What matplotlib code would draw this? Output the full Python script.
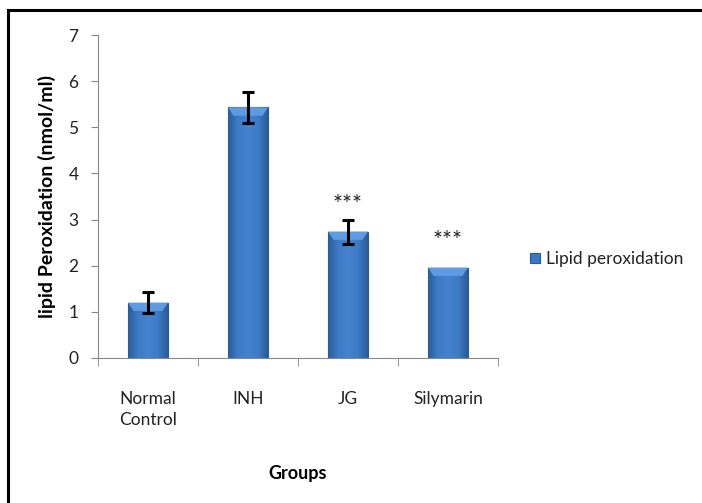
import numpy as np
import matplotlib
matplotlib.use("Agg")
import matplotlib.pyplot as plt
from matplotlib.patches import Rectangle
from matplotlib.colors import LinearSegmentedColormap

plt.rcParams['font.family'] = ['Lato', 'DejaVu Sans']

groups = ["Normal\nControl", "INH", "JG", "Silymarin"]
lipid_perox = [1.20, 5.43, 2.74, 1.96]
lipid_err = [0.22, 0.34, 0.26, 0.0]
signif = ["", "", "***", "***"]

W, H = 702, 503
fig = plt.figure(figsize=(W / 100, H / 100), dpi=100)
ax = fig.add_axes([98 / W, 1 - 358 / H, 400 / W, 323 / H])

x = np.arange(len(groups))
bars = ax.bar(x, lipid_perox, width=0.4, color="#3b78c4",
              edgecolor="#2a5a96", linewidth=0.8, zorder=2)

# shaded fill inside each bar: darker edges, lighter middle
shade = LinearSegmentedColormap.from_list(
    "barshade", ["#2a5c99", "#3e7bc6", "#4582cf", "#3e7bc6", "#2a5c99"])
grad = np.linspace(0, 1, 256).reshape(1, -1)
for b in bars:
    x0, w, h = b.get_x(), b.get_width(), b.get_height()
    im = ax.imshow(grad, cmap=shade, aspect="auto",
                   extent=[x0, x0 + w, 0, h], zorder=2.5)
    im.set_clip_path(b)
    # bevel on top of bar
    ax.add_patch(plt.Polygon([[x0, h], [x0 + w, h], [x0 + w * 0.86, h - 0.18],
                              [x0 + w * 0.14, h - 0.18]],
                             closed=True, color="#5e9be2", zorder=2.6, lw=0))

for xi, v, e in zip(x, lipid_perox, lipid_err):
    if e > 0:
        ax.errorbar(xi, v, yerr=e, fmt="none", ecolor="black",
                    elinewidth=2.2, capsize=4, capthick=2.2, zorder=3)

for xi, v, s in zip(x, lipid_perox, signif):
    if s:
        ax.text(xi, v + 0.58, s, ha="center", va="center",
                fontsize=17, color="#222222")

ax.set_xlim(-0.5, len(groups) - 0.5)
ax.set_ylim(0, 7)
ax.set_yticks(range(0, 8))
ax.set_xticks(x)
ax.set_xticklabels(groups, fontsize=12.5, linespacing=1.35, color="#222222")
ax.set_xticks(np.arange(-0.5, len(groups) + 0.5, 1), minor=True)
ax.tick_params(axis="x", which="major", length=0, pad=24)
ax.tick_params(axis="x", which="minor", length=6, color="#888888")
ax.tick_params(axis="y", length=5, color="#888888", labelsize=12.5,
               labelcolor="#222222", pad=9)

for side in ["top", "right"]:
    ax.spines[side].set_visible(False)
for side in ["left", "bottom"]:
    ax.spines[side].set_color("#888888")

ax.set_ylabel("lipid Peroxidation (nmol/ml)", fontsize=14, fontweight="bold",
              labelpad=9)
ax.set_xlabel("Groups", fontsize=13, fontweight="bold", labelpad=27)

# legend
fig.patches.append(Rectangle((530 / W, 1 - 263 / H), 10 / W, 10 / H,
                             transform=fig.transFigure,
                             facecolor="#3b78c4", edgecolor="#2a5a96", lw=0.8))
fig.text(546 / W, 1 - 259 / H, "Lipid peroxidation", fontsize=12.5,
         va="center", color="#222222")

# outer frame (open on right and bottom edges)
fig.patches.append(Rectangle((8 / W, -0.05), 1.2, 1 - 10 / H + 0.05,
                             transform=fig.transFigure,
                             fill=False, edgecolor="black", lw=2.2))

fig.savefig("out.png", dpi=100)
